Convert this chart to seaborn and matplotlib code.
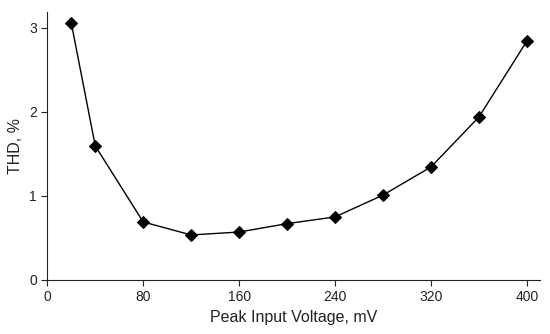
import numpy as np
import pandas as pd
import seaborn as sns
import matplotlib.pyplot as plt

# peak input voltage (mV) and THD (%)
voltage = [20, 40, 80, 120, 160, 200, 240, 280, 320, 360, 400]
thd = [3.06, 1.595, 0.69, 0.535, 0.57, 0.67, 0.75, 1.01, 1.345, 1.94, 2.845]
xticks = [0, 80, 160, 240, 320, 400]
yticks = [0, 1, 2, 3]

df = pd.DataFrame({'voltage': voltage, 'thd': thd})

sns.set_style('ticks')
plt.rcParams['font.family'] = ['Liberation Sans', 'DejaVu Sans']

fig = plt.figure(figsize=(5.5, 3.34), dpi=100)
ax = fig.add_axes([0.086, 0.162, 0.896, 0.802])

sns.lineplot(data=df, x='voltage', y='thd', ax=ax, color='black',
             linewidth=1.0, marker='D', markersize=6.5,
             markeredgecolor='black', markerfacecolor='black')

ax.set_xlim(0, 411)
ax.set_ylim(0, 3.19)
ax.set_xticks(xticks)
ax.set_yticks(yticks)
ax.tick_params(labelsize=10, length=4, width=0.8, colors='#222222')
ax.set_xlabel('Peak Input Voltage, mV', fontsize=11.5, color='#222222')
ax.set_ylabel('THD, %', fontsize=11.5, color='#222222')
for s in ['top', 'right']:
    ax.spines[s].set_visible(False)
for s in ['left', 'bottom']:
    ax.spines[s].set_linewidth(0.8)
    ax.spines[s].set_color('#222222')

fig.savefig('out.png', dpi=100)
